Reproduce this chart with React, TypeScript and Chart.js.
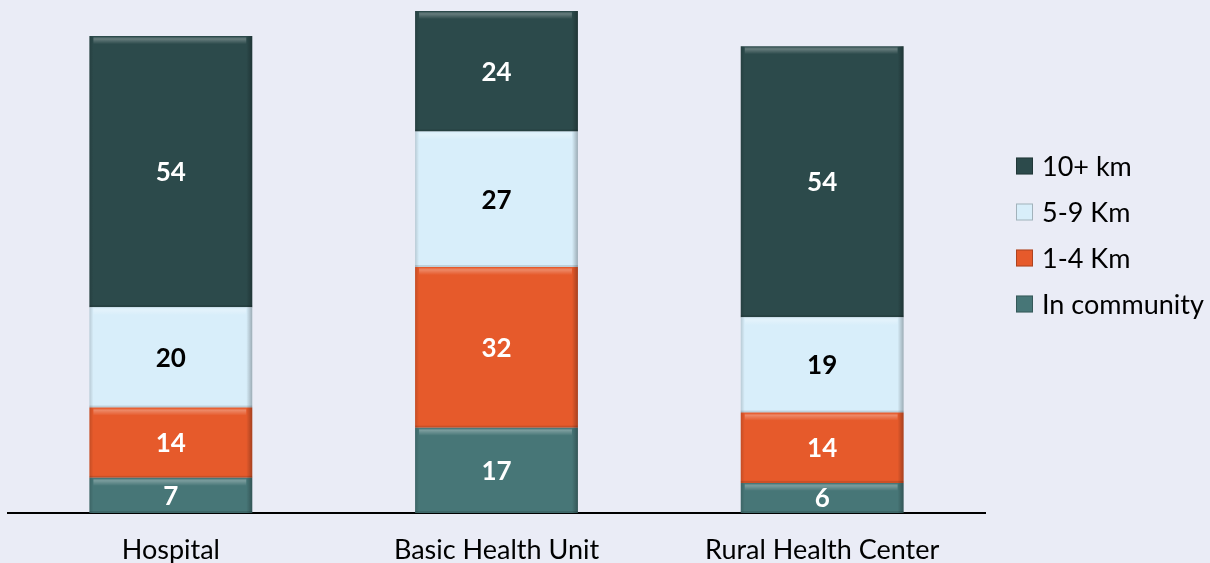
import React, { useEffect, useRef } from "react";
import { Chart, registerables } from "chart.js";

Chart.register(...registerables);

const categories = ["Hospital", "Basic Health Unit", "Rural Health Center"];
const seriesNames = ["In community", "1-4 Km", "5-9 Km", "10+ km"];
const inCommunity = [7, 17, 6];
const km1to4 = [14, 32, 14];
const km5to9 = [20, 27, 19];
const km10plus = [54, 24, 54];
const seriesColors = ["#477677", "#E65A2B", "#D8EEFA", "#2C4A4B"];
const labelColors = ["#FFFFFF", "#FFFFFF", "#000000", "#FFFFFF"];
const BG = "#EAECF6";
const FONT = "Lato, 'Open Sans', sans-serif";

const bevelPlugin = {
  id: "bevel",
  afterDatasetsDraw(chart: any) {
    const ctx = chart.ctx;
    chart.data.datasets.forEach((_: any, di: number) => {
      const meta = chart.getDatasetMeta(di);
      meta.data.forEach((el: any) => {
        const { x, y, base, width } = el.getProps(["x", "y", "base", "width"], true);
        const left = x - width / 2;
        const right = x + width / 2;
        const top = Math.min(y, base);
        const bottom = Math.max(y, base);
        ctx.save();
        const hg = ctx.createLinearGradient(0, top, 0, top + 8);
        hg.addColorStop(0, "rgba(255,255,255,0.0)");
        hg.addColorStop(0.35, "rgba(255,255,255,0.28)");
        hg.addColorStop(1, "rgba(255,255,255,0)");
        ctx.fillStyle = hg;
        ctx.fillRect(left + 4, top + 1, width - 10, 7);
        const rg = ctx.createLinearGradient(right - 6, 0, right, 0);
        rg.addColorStop(0, "rgba(0,0,0,0)");
        rg.addColorStop(1, "rgba(0,0,0,0.28)");
        ctx.fillStyle = rg;
        ctx.fillRect(right - 6, top, 6, bottom - top);
        const lg = ctx.createLinearGradient(left, 0, left + 4, 0);
        lg.addColorStop(0, "rgba(0,0,0,0.15)");
        lg.addColorStop(1, "rgba(0,0,0,0)");
        ctx.fillStyle = lg;
        ctx.fillRect(left, top, 4, bottom - top);
        ctx.fillStyle = "rgba(0,0,0,0.12)";
        ctx.fillRect(left, bottom - 2, width, 2);
        ctx.restore();
      });
    });
  },
};

const valueLabelPlugin = {
  id: "valueLabels",
  afterDatasetsDraw(chart: any) {
    const ctx = chart.ctx;
    ctx.save();
    ctx.font = `bold 26px ${FONT}`;
    ctx.textAlign = "center";
    ctx.textBaseline = "middle";
    chart.data.datasets.forEach((ds: any, di: number) => {
      const meta = chart.getDatasetMeta(di);
      meta.data.forEach((el: any, i: number) => {
        const { x, y, base } = el.getProps(["x", "y", "base"], true);
        ctx.fillStyle = labelColors[di];
        ctx.fillText(String(ds.data[i]), x, (y + base) / 2 + 1);
      });
    });
    ctx.restore();
  },
};

const legendPlugin = {
  id: "customLegend",
  afterDraw(chart: any) {
    const ctx = chart.ctx;
    const n = chart.data.datasets.length;
    const x0 = chart.chartArea.right + 31;
    const yStart = 166;
    const step = 46;
    ctx.save();
    ctx.font = `27px ${FONT}`;
    ctx.textBaseline = "middle";
    ctx.textAlign = "left";
    for (let k = 0; k < n; k++) {
      const di = n - 1 - k;
      const ds = chart.data.datasets[di];
      const cy = yStart + k * step;
      ctx.fillStyle = ds.backgroundColor;
      ctx.fillRect(x0, cy - 8.5, 17, 17);
      ctx.strokeStyle = "rgba(0,0,0,0.25)";
      ctx.lineWidth = 1;
      ctx.strokeRect(x0 + 0.5, cy - 8, 16, 16);
      ctx.fillStyle = "#000000";
      ctx.fillText(ds.label, x0 + 26, cy + 1);
    }
    ctx.restore();
  },
};

export default function App() {
  const canvasRef = useRef<HTMLCanvasElement | null>(null);

  useEffect(() => {
    if (!canvasRef.current) return;
    const seriesData = [inCommunity, km1to4, km5to9, km10plus];
    const chart = new Chart(canvasRef.current, {
      type: "bar",
      data: {
        labels: categories,
        datasets: seriesNames.map((name, i) => ({
          label: name,
          data: seriesData[i],
          backgroundColor: seriesColors[i],
          borderWidth: 0,
          categoryPercentage: 1,
          barPercentage: 0.5,
        })),
      },
      options: {
        responsive: false,
        animation: false,
        devicePixelRatio: 1,
        layout: { padding: { left: 8, right: 225, top: 11, bottom: 0 } },
        plugins: {
          legend: { display: false },
          tooltip: { enabled: false },
        },
        scales: {
          x: {
            stacked: true,
            grid: { display: false, drawTicks: false },
            border: { display: true, color: "#000000", width: 2 },
            ticks: {
              color: "#000000",
              font: { family: FONT, size: 27, lineHeight: 1 },
              padding: 24,
              maxRotation: 0,
              autoSkip: false,
            },
          },
          y: {
            stacked: true,
            display: false,
            min: 0,
            max: 100,
          },
        },
      },
      plugins: [bevelPlugin, valueLabelPlugin, legendPlugin],
    });
    return () => chart.destroy();
  }, []);

  return (
    <div
      style={{
        position: "fixed",
        left: 0,
        top: 0,
        width: 1210,
        height: 563,
        overflow: "hidden",
        background: BG,
      }}
    >
      <canvas ref={canvasRef} width={1210} height={588} style={{ width: 1210, height: 588, display: "block" }} />
    </div>
  );
}
